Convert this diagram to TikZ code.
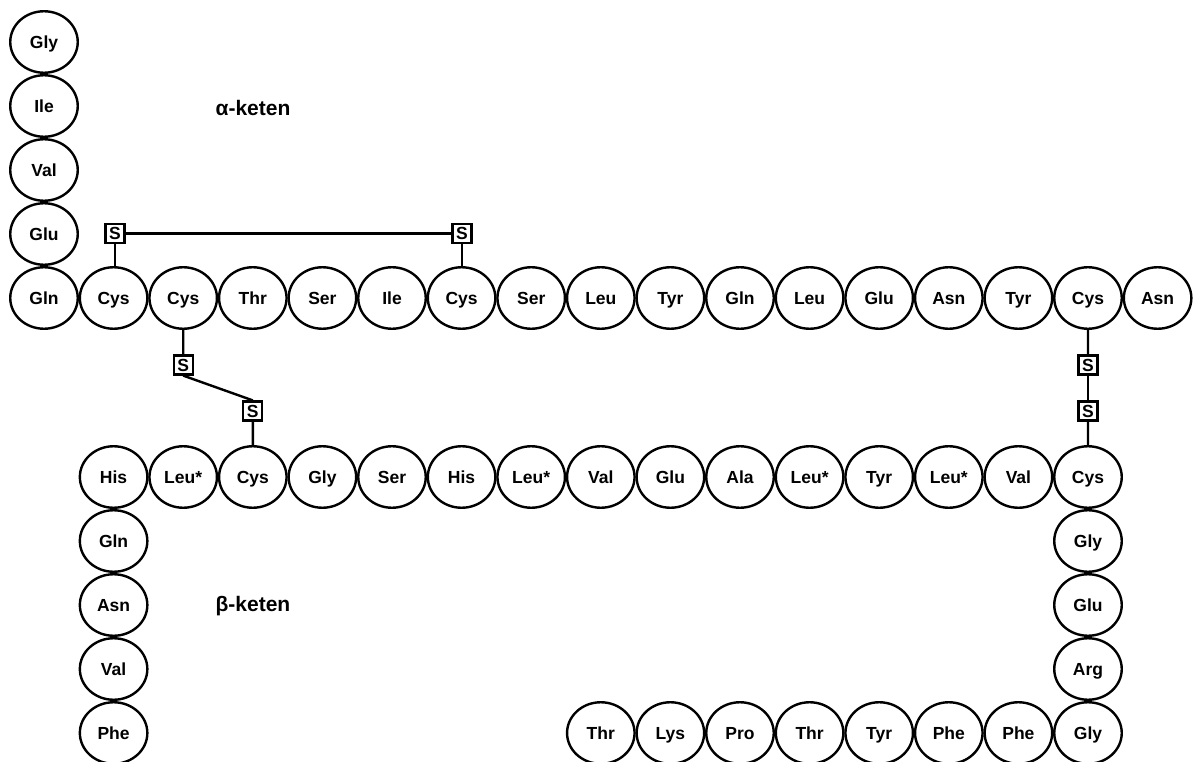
\documentclass[tikz,border=0pt]{standalone}
\usepackage{fontspec}
\setmainfont{Liberation Sans}
\usetikzlibrary{shapes.geometric}
\begin{document}
\begin{tikzpicture}[x=1pt,y=-1pt,
  res/.style={ellipse, draw, line width=2.4pt, minimum width=67.5pt, minimum height=61.5pt, inner sep=0pt, text height=12.5pt, text depth=0pt, font=\bfseries\fontsize{17.5}{17.5}\selectfont},
  sbox/.style={draw, fill=white, line width=2.2pt, minimum size=19pt, inner sep=0pt, text height=12.5pt, text depth=0pt, font=\bfseries\fontsize{17.5}{17.5}\selectfont},
  bond/.style={line width=2.4pt},
  chain/.style={font=\bfseries\fontsize{21}{21}\selectfont}]
\useasboundingbox (0,0) rectangle (1194,762);
% alpha chain
\foreach \t [count=\i] in {Gly,Ile,Val,Glu,Gln}
  \node[res] (a\i) at (44,{42+64*(\i-1)}) {\t};
\foreach \t [count=\i] in {Cys,Cys,Thr,Ser,Ile,Cys,Ser,Leu,Tyr,Gln,Leu,Glu,Asn,Tyr,Cys,Asn}
  \node[res] (r\i) at ({44+69.6*\i},298) {\t};
% beta chain
\foreach \t [count=\i] in {His,Leu*,Cys,Gly,Ser,His,Leu*,Val,Glu,Ala,Leu*,Tyr,Leu*,Val,Cys}
  \node[res] (q\i) at ({44+69.6*\i},477) {\t};
\foreach \t [count=\i] in {Gln,Asn,Val,Phe}
  \node[res] (l\i) at (113.6,{477+64*\i}) {\t};
\foreach \t [count=\i] in {Gly,Glu,Arg,Gly}
  \node[res] (c\i) at (1088,{477+64*\i}) {\t};
\foreach \t [count=\i] in {Phe,Phe,Tyr,Thr,Pro,Lys,Thr}
  \node[res] (m\i) at ({1088-69.6*\i},733) {\t};
% disulfide bridges
\node[sbox] (s1) at (115,233.5) {S};
\node[sbox] (s2) at (462,233.5) {S};
\node[sbox] (s3) at (183.2,365) {S};
\node[sbox] (s4) at (252.8,411) {S};
\node[sbox] (s5) at (1088,365) {S};
\node[sbox] (s6) at (1088,411) {S};
\draw[bond] (s1) -- (s2);
\draw[bond] (s1) -- (s1 |- r1.north);
\draw[bond] (s2) -- (s2 |- r6.north);
\draw[bond] (r2) -- (s3);
\draw[bond] (s3.south) -- (s4.north);
\draw[bond] (s4) -- (q3);
\draw[bond] (r15) -- (s5);
\draw[bond] (s5) -- (s6);
\draw[bond] (s6) -- (q15);
% labels
\node[chain] (alpha) at (253,108) {α-keten};
\node[chain] (beta) at (253,606) {β-keten};
\end{tikzpicture}
\end{document}
